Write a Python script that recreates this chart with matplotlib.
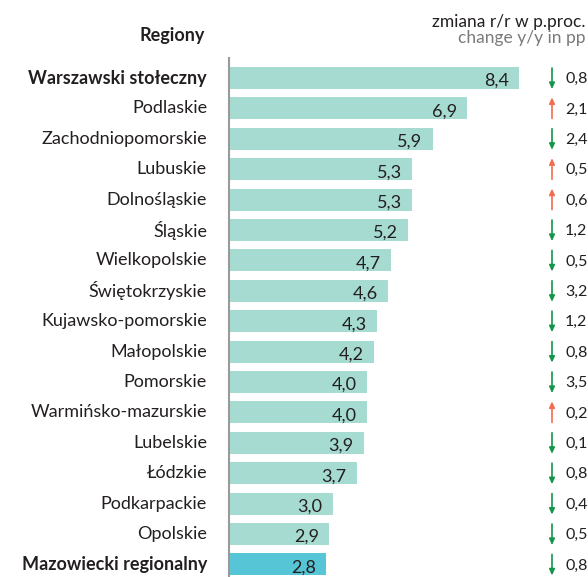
import matplotlib
matplotlib.use("Agg")
import matplotlib.pyplot as plt
from matplotlib.transforms import blended_transform_factory

regions = ["Warszawski stołeczny", "Podlaskie", "Zachodniopomorskie", "Lubuskie",
           "Dolnośląskie", "Śląskie", "Wielkopolskie", "Świętokrzyskie",
           "Kujawsko-pomorskie", "Małopolskie", "Pomorskie", "Warmińsko-mazurskie",
           "Lubelskie", "Łódzkie", "Podkarpackie", "Opolskie", "Mazowiecki regionalny"]
values = [8.4, 6.9, 5.9, 5.3, 5.3, 5.2, 4.7, 4.6, 4.3, 4.2, 4.0, 4.0, 3.9, 3.7, 3.0, 2.9, 2.8]
changes = [-0.8, 2.1, -2.4, 0.5, 0.6, -1.2, -0.5, -3.2, -1.2, -0.8, -3.5, 0.2, -0.1, -0.8, -0.4, -0.5, -0.8]
bold_rows = ["Warszawski stołeczny", "Mazowiecki regionalny"]

plt.rcParams['font.family'] = ['Lato', 'DejaVu Sans']
W, H = 588, 577
fig = plt.figure(figsize=(W / 100, H / 100), dpi=100)
x0 = 229
ax = fig.add_axes([x0 / W, 0, 1 - x0 / W, 1])
scale = 34.5  # px per unit
ax.set_xlim(0, (W - x0) / scale)
row0, step = 78, 30.4
ax.set_ylim((H - row0) / step, -row0 / step)
ax.axis("off")

col = "#a6dbd2"
hcol = "#56c5d6"
txt = "#231f20"
n = len(regions)
ys = list(range(n))
colors = [hcol if r == "Mazowiecki regionalny" else col for r in regions]
ax.barh(ys, values, height=22 / step, color=colors, left=0)

# axis line
ax.plot([0, 0], [(57 - row0) / step, (H - row0) / step], color="#9a9a9a", lw=1.5,
        clip_on=False, solid_capstyle="butt")

tr_fig_y = blended_transform_factory(fig.transFigure, ax.transData)
for i, (r, v, c) in enumerate(zip(regions, values, changes)):
    ax.text(v - 10 / scale, i + 3 / step, f"{v:.1f}".replace(".", ","), ha="right", va="center",
            fontsize=13, color=txt)
    ax.text(207 / W, i, r, transform=tr_fig_y, ha="right", va="center", fontsize=13,
            color=txt, fontweight="bold" if r in bold_rows else "normal")
    ax.text(565 / W, i + 1 / step, f"{abs(c):.1f}".replace(".", ","), transform=tr_fig_y,
            ha="left", va="center", fontsize=11.5, color=txt)
    ax_x = 552 / W
    if c < 0:
        ax.annotate("", xy=(ax_x, i + 11 / step), xytext=(ax_x, i - 10 / step),
                    xycoords=tr_fig_y, textcoords=tr_fig_y,
                    arrowprops=dict(arrowstyle="-|>,head_width=0.16,head_length=0.35",
                                    color="#12964a", lw=1.2, shrinkA=0, shrinkB=0))
    else:
        ax.annotate("", xy=(ax_x, i - 11 / step), xytext=(ax_x, i + 10 / step),
                    xycoords=tr_fig_y, textcoords=tr_fig_y,
                    arrowprops=dict(arrowstyle="-|>,head_width=0.16,head_length=0.35",
                                    color="#f26c4f", lw=1.2, shrinkA=0, shrinkB=0))

fig.text(205 / W, 1 - 36 / H, "Regiony", ha="right", va="center", fontsize=13,
         fontweight="bold", color=txt)
fig.text(586 / W, 1 - 22 / H, "zmiana r/r w p.proc.", ha="right", va="center",
         fontsize=12.5, color=txt)
fig.text(586 / W, 1 - 38 / H, "change y/y in pp", ha="right", va="center",
         fontsize=12.5, color="#7a7a7a")

fig.savefig("out.png", dpi=100)
